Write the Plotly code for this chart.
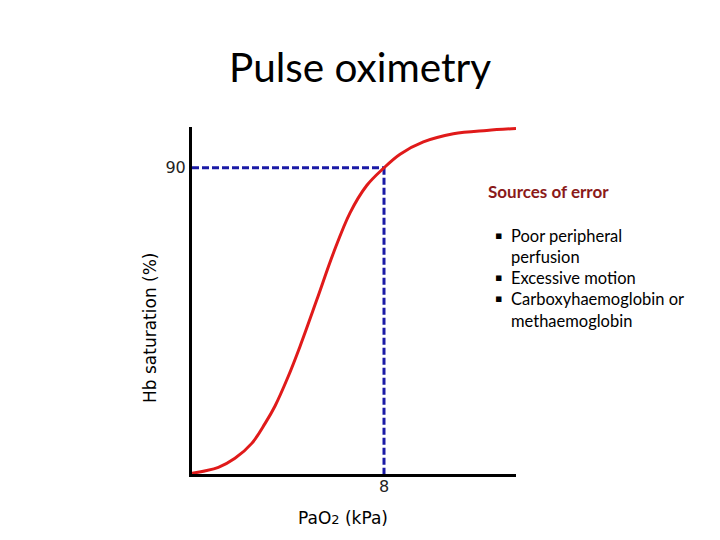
import plotly.graph_objects as go

# Oxygen-haemoglobin dissociation curve
pao2_kpa = [0.0, 1.10, 1.79, 2.49, 3.04, 3.46, 4.0, 4.5, 5.20, 5.89, 6.58, 7.28, 7.97, 8.67, 9.64, 10.89, 12.28, 13.5]
hb_sat = [0.2, 1.96, 4.6, 9.0, 14.8, 20.0, 28.5, 37.5, 51.2, 64.9, 76.7, 84.8, 89.8, 94.0, 97.6, 100.0, 101.0, 101.55]

ref_x = 8
ref_y = 90
x_ticks = [8]
y_ticks = [90]
title_text = "Pulse oximetry"
x_title = "PaO<span style='font-size:13px'>2</span> (kPa)"
y_title = "Hb saturation (%)"
box_title = "Sources of error"
bullets = ["Poor peripheral", "perfusion", "Excessive motion", "Carboxyhaemoglobin or", "methaemoglobin"]
bullet_marks = [True, False, True, True, False]

fig = go.Figure()
# dashed reference lines
fig.add_trace(go.Scatter(x=[0, ref_x], y=[ref_y, ref_y], mode="lines",
                         line=dict(color="#1a1aa6", width=3, dash="7px,3px"), hoverinfo="skip"))
fig.add_trace(go.Scatter(x=[ref_x, ref_x], y=[ref_y, 0], mode="lines",
                         line=dict(color="#1a1aa6", width=3, dash="7px,3px"), hoverinfo="skip"))
# curve
fig.add_trace(go.Scatter(x=pao2_kpa, y=hb_sat, mode="lines",
                         line=dict(color="#e01a1a", width=3, shape="spline", smoothing=1.0),
                         hoverinfo="skip"))

tick_font = dict(family="DejaVu Sans", size=16, color="#222222")
fig.update_xaxes(range=[0, 13.5], showline=True, linecolor="black", linewidth=3,
                 showgrid=False, zeroline=False, tickvals=x_ticks, ticks="",
                 tickfont=tick_font, ticklabelstandoff=-4)
fig.update_yaxes(range=[0, 102], showline=True, linecolor="black", linewidth=3,
                 showgrid=False, zeroline=False, tickvals=y_ticks, ticks="",
                 tickfont=tick_font)

# plot area in page pixels: left 192, right 516, top 127, bottom 474
def px(x):
    return (x - 192) / 324

def py(y):
    return (474 - y) / 347

anns = []
anns.append(dict(text=title_text, xref="paper", yref="paper", x=px(360), y=py(66),
                 showarrow=False, font=dict(family="Lato", size=40.5, color="black"),
                 xanchor="center", yanchor="middle"))
anns.append(dict(text=y_title, xref="paper", yref="paper", x=px(150), y=py(328),
                 textangle=-90, showarrow=False, font=dict(family="DejaVu Sans", size=17, color="black"),
                 xanchor="center", yanchor="middle"))
anns.append(dict(text=x_title, xref="paper", yref="paper", x=px(343), y=py(518),
                 showarrow=False, font=dict(family="DejaVu Sans", size=17, color="black"),
                 xanchor="center", yanchor="middle"))
anns.append(dict(text="<b>" + box_title + "</b>", xref="paper", yref="paper", x=px(486),
                 y=py(191), showarrow=False, font=dict(family="Lato", size=17, color="#8b1a1a"),
                 xanchor="left", yanchor="middle"))
line_y = [236, 257, 278, 299, 321]
for txt, mark, yy in zip(bullets, bullet_marks, line_y):
    if mark:
        anns.append(dict(text="▪", xref="paper", yref="paper", x=px(498), y=py(yy - 1),
                         showarrow=False, font=dict(family="DejaVu Sans", size=11, color="black"),
                         xanchor="center", yanchor="middle"))
    anns.append(dict(text=txt, xref="paper", yref="paper", x=px(509), y=py(yy),
                     showarrow=False, font=dict(family="Lato", size=16.5, color="black"),
                     xanchor="left", yanchor="middle"))

fig.update_layout(
    width=720, height=540,
    margin=dict(l=184, r=212, t=119, b=74),
    paper_bgcolor="white", plot_bgcolor="white",
    showlegend=False,
    annotations=anns,
)
fig.write_html("out.html")
